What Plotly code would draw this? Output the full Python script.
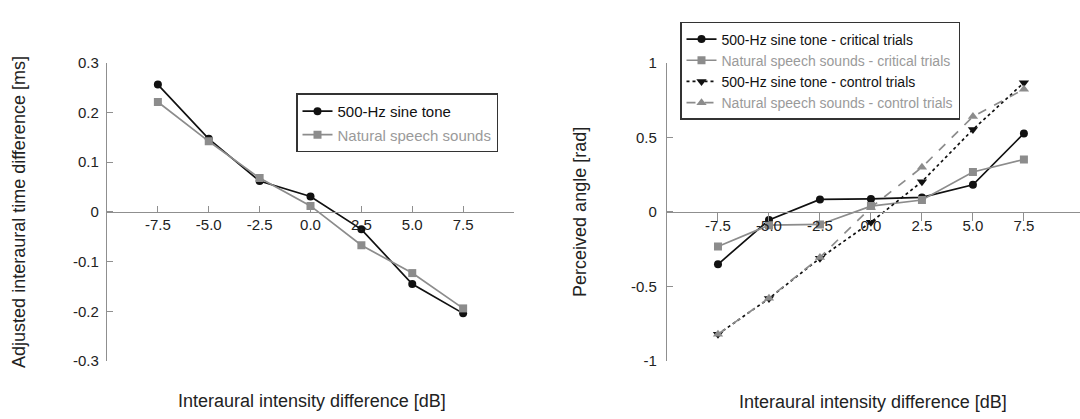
import plotly.graph_objects as go

# ---------------- data ----------------
iid = [-7.5, -5.0, -2.5, 0.0, 2.5, 5.0, 7.5]
iid_labels = ["-7.5", "-5.0", "-2.5", "0.0", "2.5", "5.0", "7.5"]

# left panel: adjusted interaural time difference [ms]
itd_sine = [0.256, 0.147, 0.062, 0.031, -0.035, -0.145, -0.204]
itd_speech = [0.221, 0.142, 0.068, 0.012, -0.067, -0.123, -0.194]

# right panel: perceived angle [rad]
ang_sine_crit = [-0.351, -0.054, 0.084, 0.087, 0.097, 0.182, 0.526]
ang_speech_crit = [-0.232, -0.089, -0.084, 0.039, 0.080, 0.268, 0.351]
ang_sine_ctrl = [-0.82, -0.580, -0.310, -0.069, 0.203, 0.552, 0.866]
ang_speech_ctrl = [-0.82, -0.578, -0.305, 0.030, 0.299, 0.639, 0.823]

left_yticks = [0.3, 0.2, 0.1, 0, -0.1, -0.2, -0.3]
left_yticklabels = ["0.3", "0.2", "0.1", "0", "-0.1", "-0.2", "-0.3"]
right_yticks = [1, 0.5, 0, -0.5, -1]
right_yticklabels = ["1", "0.5", "0", "-0.5", "-1"]

# ---------------- style ----------------
BLACK = "#111111"
GRAY = "#8c8c8c"
GRAYTXT = "#9a9a9a"
AXIS = "#8f8f8f"
FONT = "Liberation Sans, Arial, sans-serif"
W, H = 1080, 419


def px_x(p):
    return p / W


def px_y(p):
    return (H - p) / H


fig = go.Figure()

# left panel traces
fig.add_trace(go.Scatter(
    x=iid, y=itd_sine, mode="lines+markers", name="500-Hz sine tone",
    line=dict(color=BLACK, width=1.7),
    marker=dict(symbol="circle", size=8, color=BLACK),
    xaxis="x", yaxis="y", legend="legend", legendgroup="a"))
fig.add_trace(go.Scatter(
    x=iid, y=itd_speech, mode="lines+markers",
    name=f'<span style="color:{GRAYTXT}">Natural speech sounds</span>',
    line=dict(color=GRAY, width=1.7),
    marker=dict(symbol="square", size=8, color=GRAY),
    xaxis="x", yaxis="y", legend="legend", legendgroup="b"))

# right panel traces
fig.add_trace(go.Scatter(
    x=iid, y=ang_sine_crit, mode="lines+markers",
    name="500-Hz sine tone - critical trials",
    line=dict(color=BLACK, width=1.7),
    marker=dict(symbol="circle", size=8, color=BLACK),
    xaxis="x2", yaxis="y2", legend="legend2"))
fig.add_trace(go.Scatter(
    x=iid, y=ang_speech_crit, mode="lines+markers",
    name=f'<span style="color:{GRAYTXT}">Natural speech sounds - critical trials</span>',
    line=dict(color=GRAY, width=1.7),
    marker=dict(symbol="square", size=8, color=GRAY),
    xaxis="x2", yaxis="y2", legend="legend2"))
fig.add_trace(go.Scatter(
    x=iid, y=ang_sine_ctrl, mode="lines+markers",
    name="500-Hz sine tone - control trials",
    line=dict(color=BLACK, width=1.7, dash="dot"),
    marker=dict(symbol="triangle-down", size=9, color=BLACK),
    xaxis="x2", yaxis="y2", legend="legend2"))
fig.add_trace(go.Scatter(
    x=iid, y=ang_speech_ctrl, mode="lines+markers",
    name=f'<span style="color:{GRAYTXT}">Natural speech sounds - control trials</span>',
    line=dict(color=GRAY, width=1.7, dash="dash"),
    marker=dict(symbol="triangle-up", size=9, color=GRAY),
    xaxis="x2", yaxis="y2", legend="legend2"))

zero_px = 211.5
zero_pos = px_y(zero_px)
ydom = [px_y(367), px_y(56)]

common_y = dict(showline=True, linecolor=AXIS, linewidth=1.2, ticks="inside",
                ticklen=6, tickcolor=AXIS, tickwidth=1.2, showgrid=False,
                zeroline=False, tickfont=dict(size=15, color="#222222", family=FONT))
common_x = dict(showline=True, linecolor=AXIS, linewidth=1.2, tickcolor=AXIS,
                tickwidth=1.2, showgrid=False, zeroline=False, anchor="free",
                position=zero_pos,
                tickfont=dict(size=15, color="#222222", family=FONT))

fig.update_layout(
    width=W, height=H, autosize=False,
    margin=dict(l=0, r=0, t=0, b=0),
    paper_bgcolor="white", plot_bgcolor="rgba(0,0,0,0)",
    font=dict(family=FONT, color="#222222"),
    xaxis=dict(domain=[px_x(107), px_x(514)], range=[-10, 10],
               tickvals=iid + [10], ticktext=iid_labels + [""],
               ticks="inside", ticklen=6, ticklabelstandoff=-1, **common_x),
    yaxis=dict(domain=ydom, range=[-0.3, 0.3], tickvals=left_yticks,
               ticktext=left_yticklabels, ticklabelstandoff=4, **common_y),
    xaxis2=dict(domain=[px_x(667), 1.0], range=[-10, 10.25],
                tickvals=iid, ticktext=iid_labels,
                ticks="outside", ticklen=8, ticklabelstandoff=-8, **common_x),
    yaxis2=dict(domain=ydom, range=[-1, 1], tickvals=right_yticks,
                ticktext=right_yticklabels, anchor="x2", ticklabelstandoff=6, **common_y),
    legend=dict(x=px_x(296), y=px_y(88), xanchor="left", yanchor="top",
                bgcolor="white", bordercolor="#333333", borderwidth=1.5,
                font=dict(size=15, color="#111111", family=FONT),
                tracegroupgap=1, traceorder="grouped"),
    legend2=dict(x=px_x(680), y=px_y(13.5), xanchor="left", yanchor="top",
                 bgcolor="white", bordercolor="#333333", borderwidth=1.5,
                 font=dict(size=14, color="#111111", family=FONT)),
    showlegend=True,
)

# axis titles
title_font = dict(size=18, color="#222222", family=FONT)
fig.add_annotation(text="Adjusted interaural time difference [ms]", x=px_x(19), y=px_y(zero_px),
                   xref="paper", yref="paper", textangle=-90, showarrow=False,
                   xanchor="center", yanchor="middle", font=title_font)
fig.add_annotation(text="Perceived angle [rad]", x=px_x(580), y=px_y(zero_px),
                   xref="paper", yref="paper", textangle=-90, showarrow=False,
                   xanchor="center", yanchor="middle", font=title_font)
fig.add_annotation(text="Interaural intensity difference [dB]", x=px_x(312), y=px_y(409),
                   xref="paper", yref="paper", showarrow=False,
                   xanchor="center", yanchor="middle", font=title_font)
fig.add_annotation(text="Interaural intensity difference [dB]", x=px_x(873), y=px_y(410),
                   xref="paper", yref="paper", showarrow=False,
                   xanchor="center", yanchor="middle", font=title_font)

fig.write_html("out.html", config={"displayModeBar": False},
               post_script="document.body.style.margin='0px';")
